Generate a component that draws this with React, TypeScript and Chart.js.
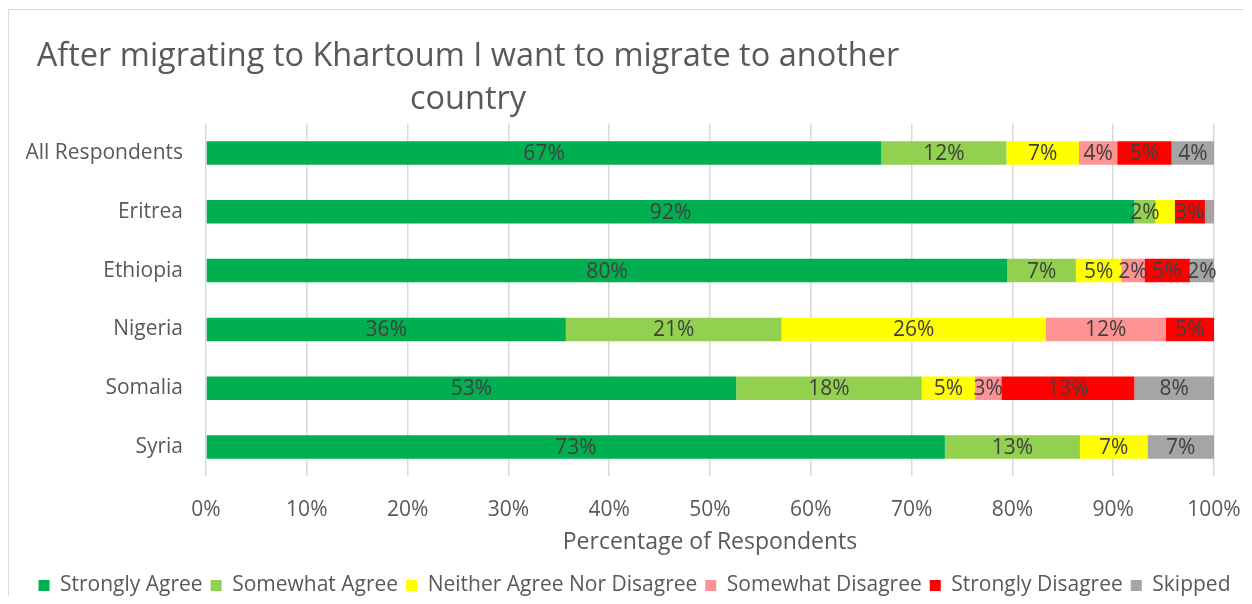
import React, { useEffect, useRef } from 'react';
import { Chart, registerables } from 'chart.js';

Chart.register(...registerables);

const categories = ['All Respondents', 'Eritrea', 'Ethiopia', 'Nigeria', 'Somalia', 'Syria'];
const seriesNames = [
  'Strongly Agree',
  'Somewhat Agree',
  'Neither Agree Nor Disagree',
  'Somewhat Disagree',
  'Strongly Disagree',
  'Skipped',
];
const stronglyAgree = [67.0, 92.1, 79.5, 35.7, 52.6, 73.3];
const somewhatAgree = [12.4, 2.1, 6.8, 21.4, 18.4, 13.4];
const neitherAgree = [7.2, 1.9, 4.5, 26.2, 5.3, 6.7];
const somewhatDisagree = [3.8, 0, 2.3, 11.9, 2.6, 0];
const stronglyDisagree = [5.4, 3.0, 4.5, 4.8, 13.2, 0];
const skipped = [4.2, 0.9, 2.4, 0, 7.9, 6.6];
const seriesColors = ['#00B050', '#92D050', '#FFFF00', '#FF9393', '#FF0000', '#A5A5A5'];
const titleLines = ['After migrating to Khartoum I want to migrate to another', 'country'];
const xAxisTitle = 'Percentage of Respondents';

const FONT = '"Open Sans", sans-serif';
const TEXT = '#595959';
const GRID = '#d9d9d9';

const frameAndTitle = {
  id: 'frameAndTitle',
  afterLayout(chart: any) {
    if (chart.legend) {
      chart.legend.left += 15;
      chart.legend.right += 15;
      chart.legend.top += 2;
      chart.legend.bottom += 2;
    }
  },
  beforeDraw(chart: any) {
    const ctx = chart.ctx;
    ctx.save();
    ctx.fillStyle = '#ffffff';
    ctx.fillRect(0, 0, chart.width, chart.height);
    ctx.strokeStyle = GRID;
    ctx.lineWidth = 1;
    ctx.beginPath();
    ctx.moveTo(0.5, chart.height);
    ctx.lineTo(0.5, 1.5);
    ctx.lineTo(chart.width, 1.5);
    ctx.stroke();
    ctx.fillStyle = TEXT;
    ctx.font = `32.5px ${FONT}`;
    ctx.textAlign = 'center';
    ctx.textBaseline = 'middle';
    ctx.fillText(titleLines[0], 460, 49);
    ctx.fillText(titleLines[1], 460, 92);
    ctx.restore();
  },
};

const dataLabels = {
  id: 'dataLabels',
  afterDatasetsDraw(chart: any) {
    const ctx = chart.ctx;
    ctx.save();
    ctx.font = `21px ${FONT}`;
    ctx.fillStyle = '#404040';
    ctx.textAlign = 'center';
    ctx.textBaseline = 'middle';
    chart.data.datasets.forEach((ds: any, di: number) => {
      const meta = chart.getDatasetMeta(di);
      if (meta.hidden) return;
      meta.data.forEach((el: any, i: number) => {
        const v = ds.data[i];
        if (v == null || v < 2) return;
        const cx = (el.x + el.base) / 2;
        ctx.fillText(Math.round(v) + '%', cx, el.y + 1);
      });
    });
    ctx.restore();
  },
};

export default function App() {
  const ref = useRef<HTMLCanvasElement>(null);
  useEffect(() => {
    if (!ref.current) return;
    const values = [stronglyAgree, somewhatAgree, neitherAgree, somewhatDisagree, stronglyDisagree, skipped];
    const chart = new Chart(ref.current, {
      type: 'bar',
      data: {
        labels: categories,
        datasets: seriesNames.map((name, i) => ({
          label: name,
          data: values[i],
          backgroundColor: seriesColors[i],
          borderWidth: 0,
          barPercentage: 0.4,
          categoryPercentage: 1,
        })),
      },
      options: {
        indexAxis: 'y',
        animation: false,
        responsive: true,
        maintainAspectRatio: false,
        layout: { padding: { top: 115.6, right: 13, bottom: 0, left: 0 } },
        plugins: {
          title: { display: false },
          tooltip: { enabled: false },
          legend: {
            position: 'bottom',
            labels: {
              boxWidth: 11,
              boxHeight: 11,
              padding: 8,
              color: TEXT,
              font: { family: FONT, size: 21 },
            },
          },
        },
        scales: {
          x: {
            stacked: true,
            min: 0,
            max: 100,
            afterFit: (s: any) => {
              s.height = 88.6;
              s.paddingLeft = 0;
              s.paddingRight = 30;
            },
            ticks: {
              stepSize: 10,
              padding: 21,
              color: TEXT,
              font: { family: FONT, size: 21 },
              callback: (v: any) => v + '%',
            },
            grid: { color: GRID, lineWidth: 1.5, drawTicks: false },
            border: { display: false },
            title: {
              display: true,
              text: xAxisTitle,
              color: TEXT,
              font: { family: FONT, size: 23 },
              padding: { top: 0, bottom: 9 },
            },
          },
          y: {
            stacked: true,
            afterFit: (s: any) => { s.width = 198; },
            ticks: {
              padding: 23,
              color: TEXT,
              font: { family: FONT, size: 21 },
            },
            grid: { display: false, drawTicks: false },
            border: { display: false },
          },
        },
      },
      plugins: [frameAndTitle, dataLabels],
    });
    return () => chart.destroy();
  }, []);
  return (
    <div style={{ width: 1236, height: 596, marginBottom: -8, position: 'relative' }}>
      <canvas ref={ref} />
    </div>
  );
}
